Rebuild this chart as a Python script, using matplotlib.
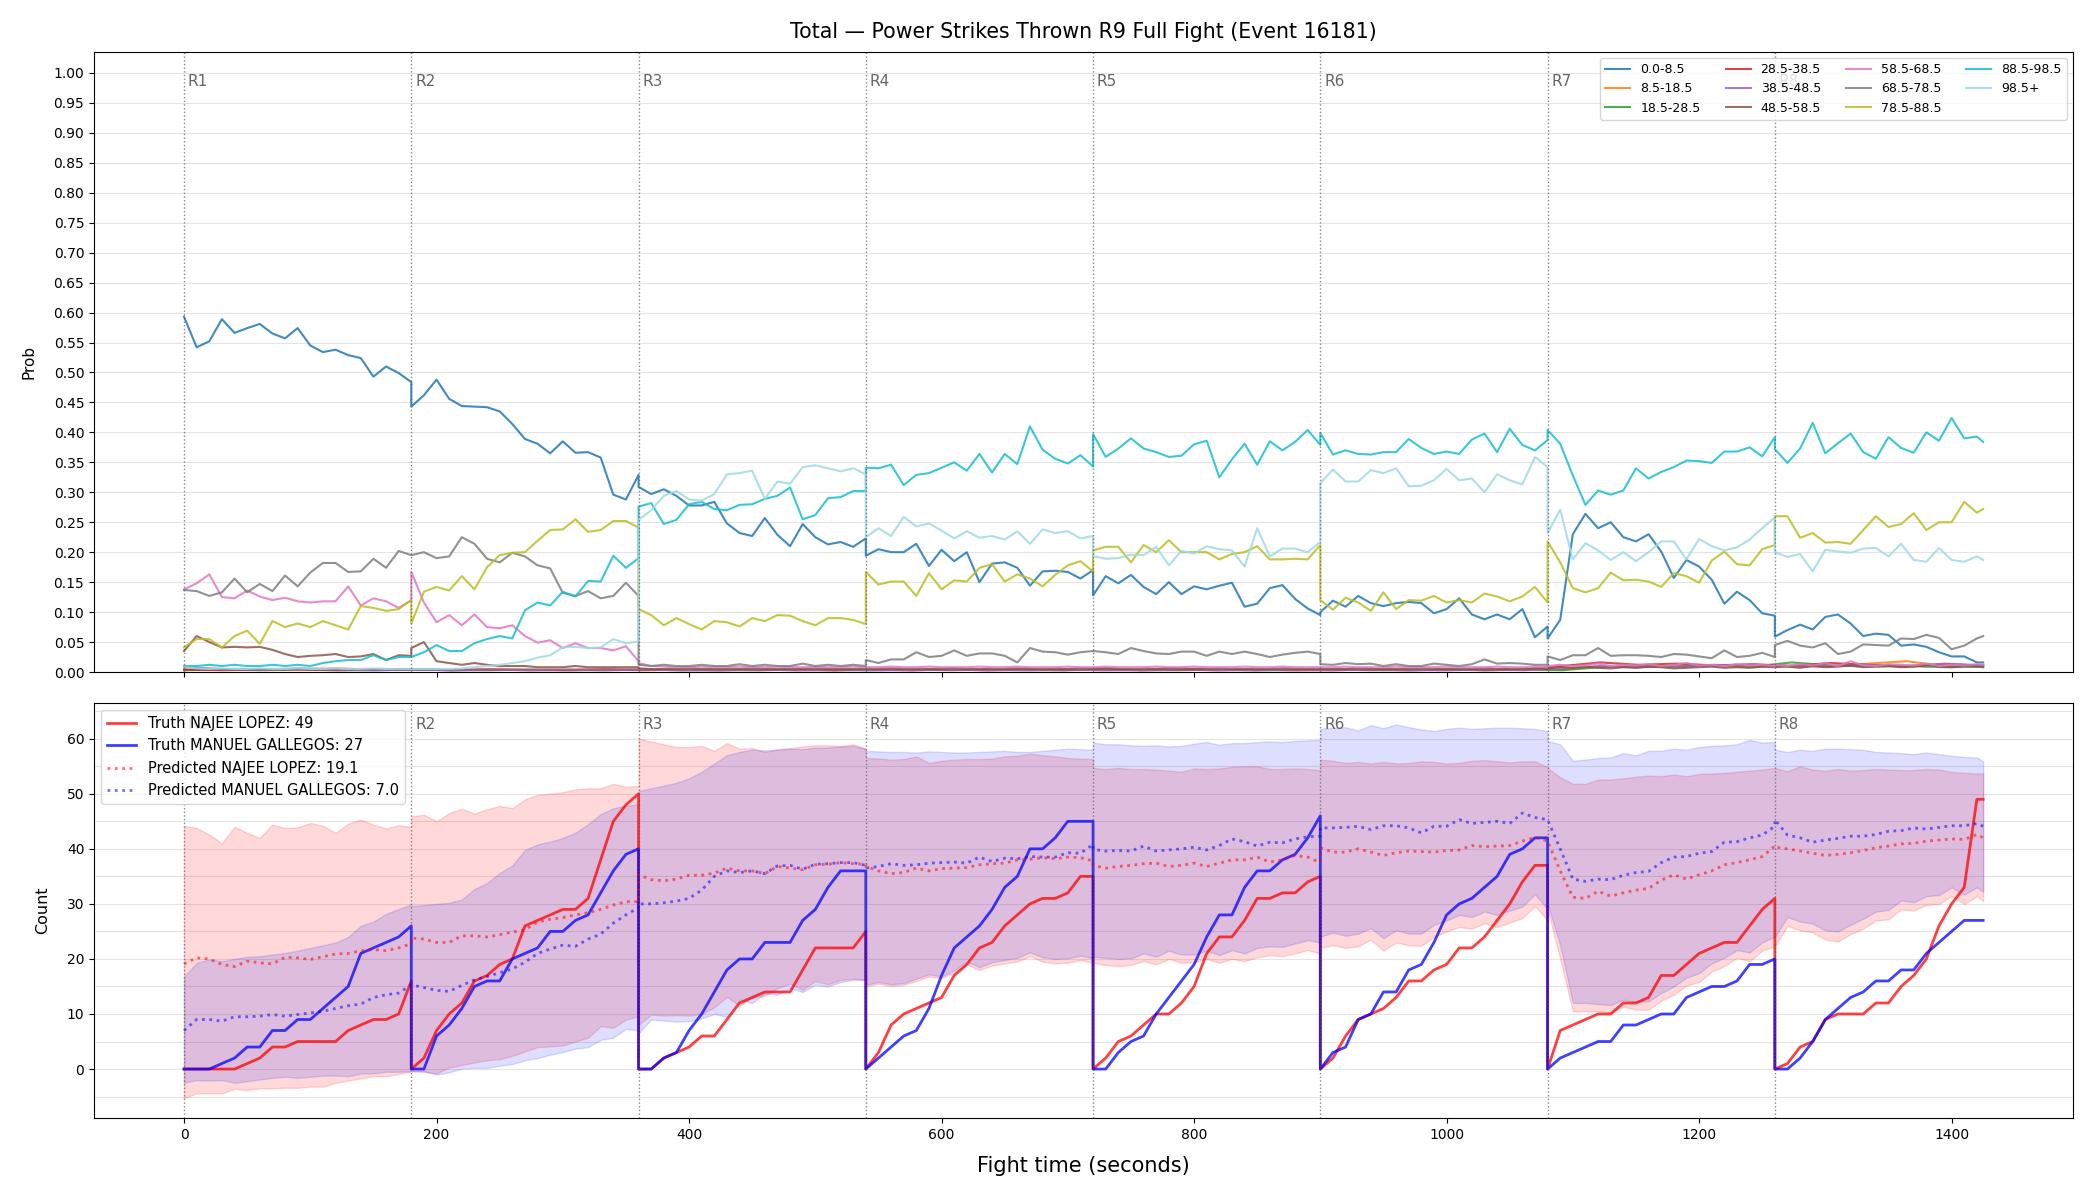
import matplotlib.pyplot as plt
import matplotlib.transforms as mtransforms
from matplotlib.ticker import MultipleLocator
import numpy as np

# time grid: 10 s samples per round, 8 rounds (last one stopped at 165 s)
ROUND_LEN = 180
round_offsets = [np.arange(0, 181, 10)] * 7 + [np.append(np.arange(0, 161, 10), 165)]
t = np.concatenate([i * ROUND_LEN + off for i, off in enumerate(round_offsets)])
t_coarse = np.linspace(0, 1425, 48)
round_starts = np.arange(8) * ROUND_LEN

bins = ['0.0-8.5', '8.5-18.5', '18.5-28.5', '28.5-38.5', '38.5-48.5', '48.5-58.5',
        '58.5-68.5', '68.5-78.5', '78.5-88.5', '88.5-98.5', '98.5+']
bin_colors = ['tab:blue', 'tab:orange', 'tab:green', 'tab:red', 'tab:purple', 'tab:brown',
              'tab:pink', 'tab:gray', 'tab:olive', 'tab:cyan', '#9edae5']

# ---- probability per bin, one list per round ----
p_0_8 = [
    [.593, .542, .552, .589, .566, .574, .581, .565, .557, .574, .545, .534, .538, .529, .524, .493, .51, .499, .484],
    [.443, .462, .488, .456, .444, .443, .442, .435, .414, .389, .381, .365, .385, .366, .367, .358, .296, .288, .329],
    [.309, .297, .305, .294, .278, .278, .284, .248, .232, .227, .257, .229, .21, .247, .225, .213, .217, .209, .223],
    [.194, .205, .2, .2, .214, .177, .204, .185, .2, .15, .181, .183, .174, .144, .168, .169, .167, .156, .17],
    [.128, .16, .148, .162, .142, .13, .15, .13, .143, .138, .144, .149, .109, .114, .14, .145, .122, .106, .095],
    [.1, .119, .109, .127, .115, .11, .115, .117, .115, .098, .105, .123, .096, .088, .096, .088, .105, .058, .076],
    [.056, .087, .23, .264, .24, .25, .225, .218, .23, .201, .157, .187, .176, .154, .114, .134, .12, .098, .094],
    [.059, .07, .079, .071, .092, .096, .081, .06, .064, .062, .044, .046, .042, .033, .026, .026, .016, .016],
]
p_48_58 = [
    [.035, .06, .05, .041, .042, .041, .042, .037, .03, .025, .027, .028, .03, .025, .026, .03, .02, .028, .027],
    [.04, .05, .018, .015, .012, .015, .012, .01, .01, .01, .008, .008, .008, .01, .008, .008, .008, .008, .008],
    [.006, .005, .005, .005, .006, .005, .005, .005, .005, .006, .005, .005, .005, .005, .006, .005, .005, .005, .005],
    [.005, .005, .006, .005, .005, .005, .005, .006, .005, .005, .005, .005, .006, .005, .005, .005, .005, .006, .005],
    [.005, .006, .005, .005, .005, .005, .006, .005, .005, .005, .006, .005, .005, .005, .005, .006, .005, .005, .005],
    [.005, .005, .005, .006, .005, .005, .005, .005, .006, .005, .005, .005, .005, .006, .005, .005, .005, .006, .005],
    [.006, .008, .007, .009, .007, .006, .008, .007, .009, .008, .006, .007, .008, .009, .007, .008, .007, .009, .008],
    [.008, .009, .007, .01, .008, .009, .011, .008, .009, .01, .008, .009, .012, .009, .008, .01, .009, .008],
]
p_58_68 = [
    [.138, .148, .163, .125, .123, .136, .126, .12, .124, .118, .116, .118, .118, .143, .111, .123, .118, .107, .12],
    [.167, .116, .083, .095, .078, .096, .075, .073, .078, .06, .049, .053, .04, .048, .04, .04, .036, .043, .018],
    [.015, .01, .009, .008, .008, .009, .008, .008, .009, .008, .008, .009, .008, .008, .009, .008, .008, .009, .008],
    [.008, .008, .009, .008, .008, .009, .008, .008, .008, .009, .008, .008, .009, .008, .008, .008, .009, .008, .008],
    [.008, .009, .008, .008, .008, .009, .008, .008, .009, .008, .008, .008, .009, .008, .008, .009, .008, .008, .008],
    [.008, .008, .009, .008, .008, .008, .009, .008, .008, .008, .009, .008, .008, .008, .009, .008, .008, .009, .008],
    [.01, .012, .01, .011, .014, .01, .012, .011, .013, .01, .012, .015, .011, .012, .01, .013, .011, .012, .01],
    [.012, .01, .013, .011, .015, .01, .018, .011, .01, .013, .012, .011, .014, .01, .012, .011, .013, .012],
]
p_68_78 = [
    [.137, .135, .127, .133, .156, .133, .147, .135, .161, .143, .166, .182, .182, .167, .168, .189, .174, .202, .195],
    [.195, .2, .19, .193, .225, .214, .189, .183, .199, .193, .178, .173, .132, .127, .135, .123, .127, .149, .127],
    [.012, .01, .012, .01, .01, .012, .01, .01, .013, .01, .012, .01, .01, .014, .01, .012, .01, .012, .01],
    [.02, .015, .021, .021, .033, .025, .027, .036, .027, .031, .031, .027, .016, .04, .034, .033, .029, .033, .035],
    [.035, .033, .03, .04, .035, .031, .03, .034, .034, .027, .034, .03, .034, .03, .025, .029, .032, .034, .03],
    [.013, .012, .015, .013, .014, .01, .013, .01, .01, .014, .012, .01, .013, .021, .014, .015, .014, .012, .012],
    [.026, .02, .028, .028, .04, .027, .028, .028, .027, .025, .03, .029, .026, .023, .036, .025, .027, .032, .025],
    [.045, .052, .044, .041, .048, .03, .034, .046, .045, .044, .056, .055, .062, .057, .038, .044, .056, .06],
]
p_78_88 = [
    [.041, .055, .055, .041, .06, .069, .047, .085, .075, .081, .075, .085, .078, .071, .11, .107, .102, .105, .12],
    [.081, .134, .142, .136, .16, .138, .175, .195, .199, .2, .219, .237, .238, .255, .234, .237, .252, .252, .241],
    [.105, .095, .078, .09, .08, .071, .085, .083, .076, .09, .085, .095, .094, .085, .078, .09, .09, .087, .08],
    [.167, .146, .151, .151, .127, .165, .138, .153, .151, .174, .18, .151, .163, .156, .143, .162, .178, .185, .168],
    [.203, .209, .209, .183, .212, .2, .22, .2, .2, .2, .188, .197, .2, .21, .188, .188, .189, .188, .212],
    [.12, .104, .124, .116, .102, .133, .105, .12, .119, .127, .116, .12, .116, .131, .126, .118, .126, .142, .116],
    [.218, .183, .14, .133, .14, .166, .153, .154, .151, .142, .165, .16, .149, .186, .201, .18, .178, .205, .212],
    [.26, .26, .224, .232, .216, .217, .214, .237, .26, .242, .247, .265, .237, .25, .25, .284, .266, .272],
]
p_88_98 = [
    [.01, .01, .012, .01, .012, .01, .01, .012, .01, .012, .01, .015, .018, .02, .02, .028, .02, .025, .025],
    [.025, .033, .045, .035, .035, .048, .055, .06, .056, .103, .116, .111, .134, .126, .152, .151, .194, .174, .19],
    [.276, .282, .247, .254, .28, .284, .272, .27, .279, .28, .289, .294, .308, .255, .262, .29, .292, .302, .302],
    [.341, .34, .346, .312, .329, .332, .341, .35, .336, .364, .333, .364, .347, .41, .371, .356, .348, .362, .343],
    [.397, .359, .373, .39, .373, .367, .359, .361, .38, .386, .325, .355, .381, .346, .385, .37, .384, .404, .379],
    [.399, .363, .37, .364, .363, .367, .367, .389, .374, .364, .368, .364, .388, .398, .367, .406, .379, .37, .387],
    [.404, .381, .328, .279, .303, .296, .303, .34, .323, .334, .342, .353, .352, .349, .368, .368, .375, .36, .392],
    [.372, .349, .373, .416, .365, .382, .398, .367, .356, .392, .374, .366, .4, .386, .424, .39, .393, .384],
]
p_98_up = [
    [.008, .006, .005, .006, .005, .005, .006, .005, .005, .006, .005, .005, .006, .005, .005, .006, .005, .005, .005],
    [.005, .005, .005, .005, .006, .008, .01, .012, .015, .018, .024, .028, .041, .042, .04, .041, .055, .048, .051],
    [.254, .27, .294, .302, .288, .286, .297, .33, .332, .336, .289, .318, .314, .342, .345, .34, .335, .34, .33],
    [.225, .24, .227, .259, .243, .248, .236, .223, .235, .224, .227, .221, .235, .214, .238, .232, .235, .223, .227],
    [.194, .189, .19, .196, .195, .209, .178, .202, .198, .21, .205, .203, .176, .24, .193, .206, .206, .2, .217],
    [.315, .338, .318, .318, .337, .332, .34, .31, .311, .32, .339, .32, .323, .3, .33, .32, .313, .359, .342],
    [.232, .271, .188, .215, .203, .187, .2, .185, .2, .218, .218, .188, .222, .21, .203, .208, .221, .24, .258],
    [.2, .192, .197, .168, .204, .201, .199, .206, .207, .193, .214, .187, .184, .207, .187, .184, .193, .187],
]
# small bins, sampled every ~30 s over the whole fight
p_8_18 = [.004, .005, .004, .005, .006, .004, .005, .004, .005, .004, .004, .005, .004, .003, .004, .003,
          .004, .003, .004, .003, .004, .003, .005, .004, .003, .004, .006, .004, .003, .004, .004, .005,
          .004, .003, .004, .005, .004, .009, .008, .012, .01, .008, .011, .009, .014, .018, .01, .012]
p_18_28 = [.003, .004, .003, .004, .003, .003, .004, .003, .003, .004, .003, .003, .004, .003, .003, .003,
           .004, .003, .003, .004, .003, .004, .003, .003, .006, .003, .003, .004, .003, .003, .004, .003,
           .003, .004, .003, .004, .003, .008, .01, .009, .012, .009, .016, .011, .009, .01, .008, .009]
p_28_38 = [.004, .003, .004, .004, .003, .004, .004, .003, .004, .003, .003, .004, .003, .004, .003, .004,
           .003, .003, .004, .003, .004, .003, .004, .003, .004, .003, .004, .003, .004, .003, .003, .004,
           .003, .004, .003, .004, .01, .016, .012, .014, .011, .013, .01, .015, .012, .009, .013, .011]
p_38_48 = [.008, .005, .004, .006, .004, .003, .004, .003, .004, .003, .004, .003, .004, .003, .003, .004,
           .003, .004, .003, .003, .004, .003, .003, .004, .003, .003, .004, .003, .003, .004, .003, .004,
           .003, .003, .004, .003, .006, .01, .008, .009, .011, .012, .009, .01, .012, .01, .014, .011]

# ---- counts ----
truth_najee = [
    [0, 0, 0, 0, 0, 1, 2, 4, 4, 5, 5, 5, 5, 7, 8, 9, 9, 10, 16],
    [0, 2, 7, 10, 12, 16, 17, 19, 20, 26, 27, 28, 29, 29, 31, 38, 45, 48, 50],
    [0, 0, 2, 3, 4, 6, 6, 9, 12, 13, 14, 14, 14, 18, 22, 22, 22, 22, 25],
    [0, 3, 8, 10, 11, 12, 13, 17, 19, 22, 23, 26, 28, 30, 31, 31, 32, 35, 35],
    [0, 2, 5, 6, 8, 10, 10, 12, 15, 21, 24, 24, 27, 31, 31, 32, 32, 34, 35],
    [0, 2, 6, 9, 10, 11, 13, 16, 16, 18, 19, 22, 22, 24, 27, 30, 34, 37, 37],
    [0, 7, 8, 9, 10, 10, 12, 12, 13, 17, 17, 19, 21, 22, 23, 23, 26, 29, 31],
    [0, 1, 4, 5, 9, 10, 10, 10, 12, 12, 15, 17, 20, 26, 30, 33, 49, 49],
]
truth_manuel = [
    [0, 0, 0, 1, 2, 4, 4, 7, 7, 9, 9, 11, 13, 15, 21, 22, 23, 24, 26],
    [0, 0, 6, 8, 11, 15, 16, 16, 20, 21, 22, 25, 25, 27, 28, 32, 36, 39, 40],
    [0, 0, 2, 3, 7, 10, 14, 18, 20, 20, 23, 23, 23, 27, 29, 33, 36, 36, 36],
    [0, 2, 4, 6, 7, 11, 17, 22, 24, 26, 29, 33, 35, 40, 40, 42, 45, 45, 45],
    [0, 0, 3, 5, 6, 10, 13, 16, 19, 24, 28, 28, 33, 36, 36, 38, 39, 42, 46],
    [0, 3, 4, 9, 10, 14, 14, 18, 19, 23, 28, 30, 31, 33, 35, 39, 40, 42, 42],
    [0, 2, 3, 4, 5, 5, 8, 8, 9, 10, 10, 13, 14, 15, 15, 16, 19, 19, 20],
    [0, 0, 2, 5, 9, 11, 13, 14, 16, 16, 18, 18, 21, 23, 25, 27, 27, 27],
]
pred_najee = [
    [19.1, 20.2, 20, 19, 18.6, 19.6, 19.3, 19.1, 20.3, 20.2, 19.9, 20.4, 20.9, 21, 21.5, 21.7, 21.5, 22, 22.8],
    [23.8, 23.6, 23, 23, 24.2, 24.2, 24, 24.4, 24.9, 25.3, 26.7, 27.2, 27.5, 28, 28.4, 29, 29.8, 30.4, 30.4],
    [35.3, 34.4, 34.2, 34.5, 35.2, 35.2, 35.6, 36.5, 36, 36, 35.5, 36.8, 36.5, 36.2, 37.1, 37.2, 37.5, 37.3, 37.2],
    [36.8, 36, 35.5, 35.7, 36.5, 36, 36.4, 36.5, 36.6, 37.1, 37.3, 37.4, 38, 38.1, 38.4, 38.2, 38.5, 38.4, 37.8],
    [37, 36.5, 36.8, 37, 37.3, 37.4, 36.8, 37, 37.4, 36.8, 37.4, 38, 38, 38.5, 37.6, 38, 38.8, 38.5, 37.5],
    [40.2, 39.4, 39.4, 40, 39.4, 38.8, 39.3, 39.6, 39.5, 39.4, 39.7, 39.8, 40.6, 40.4, 40.5, 40.6, 41.4, 42.1, 41.4],
    [41.4, 36, 31.2, 31, 32.3, 31.4, 32, 32.5, 32.8, 34.3, 35.3, 34.5, 35.3, 36, 37.1, 37.5, 38, 38.6, 40.5],
    [40.3, 40, 39.6, 39.2, 38.8, 39, 39.3, 39.7, 40.2, 40.5, 40.9, 41, 41.4, 41.6, 41.8, 41.7, 42.6, 42],
]
pred_manuel = [
    [7.0, 9, 9, 8.7, 9.5, 9.5, 9.6, 9.9, 9.6, 9.9, 10.2, 10.5, 11, 11.5, 11.8, 13, 13.5, 13.8, 15.3],
    [15.3, 14.8, 14.3, 14.1, 15.2, 16.2, 16.8, 17.5, 18.2, 19.4, 21, 21.8, 22.5, 22.3, 23.6, 24.5, 26.5, 28, 29.3],
    [30, 30, 30.2, 30.5, 31, 32.5, 35, 36, 35.7, 36, 35.5, 36.9, 37, 36.3, 37.2, 37.3, 37.5, 37.5, 37],
    [36.5, 36.8, 37.3, 37, 37.1, 37.4, 37.5, 37.6, 37.4, 38.5, 37.7, 38.3, 38.2, 38.6, 38.5, 38.5, 39.3, 39.2, 40.8],
    [39.9, 39.6, 39.7, 39.6, 40.5, 39.6, 39.8, 40, 40.3, 39.8, 40.6, 41.8, 41.3, 40.5, 41.2, 41.1, 41.8, 42.2, 42.3],
    [43.8, 43.8, 43.9, 44.1, 43.5, 44.2, 44.2, 43.8, 42.9, 44.1, 44.1, 45.3, 44.6, 44.8, 45, 44.6, 46.5, 45.7, 45.3],
    [45.3, 40, 34.5, 34.1, 34.5, 34.4, 35.2, 35.7, 35.9, 37.5, 38.5, 38.6, 39.2, 39.5, 41.2, 41.3, 42, 42.5, 44.1],
    [45.3, 42.5, 42, 41.2, 41.6, 41.9, 42.3, 42.3, 42.6, 43.2, 43.3, 43.8, 43.6, 43.9, 44.2, 44.2, 44.6, 44.1],
]
najee_hi = [
    [44.2, 43.8, 42.6, 41, 44, 42.9, 42, 44.4, 43.8, 43.9, 44.7, 44.2, 42.9, 44.6, 45.3, 44.4, 43.7, 44.3, 44],
    [45.9, 46.2, 45, 46.5, 47.3, 46.4, 47.2, 47.8, 47.4, 49, 49.8, 50, 50.3, 50.8, 51, 51, 51.8, 51.3, 51.4],
    [60, 59.5, 59, 58.5, 58.5, 58.7, 57.8, 59.2, 58.2, 58.3, 57.6, 58.1, 58.3, 58.6, 58.8, 58.8, 58.7, 59, 58.2],
    [56.5, 56.4, 56.2, 56.3, 56.8, 55.6, 56, 56.2, 56.3, 56.3, 56.4, 56.8, 56.9, 57.3, 57, 56.8, 56.5, 56.4, 56.3],
    [54.7, 54.5, 54.7, 54.5, 54.5, 54.4, 54.2, 54, 54.6, 54.5, 54.6, 54.9, 55, 55, 54.5, 54.5, 54.6, 54.5, 54.3],
    [56.2, 56, 55.6, 55.8, 55.5, 55.8, 55.5, 55.6, 55.9, 55.8, 55.5, 55.6, 56, 56.1, 55.9, 55.7, 55.9, 55.9, 54.9],
    [54.7, 53, 51.8, 51.8, 52.6, 52.6, 52.8, 53.1, 53.3, 53.2, 53.5, 53.2, 53.6, 53.7, 53.8, 54, 54.2, 54.4, 54.7],
    [54.7, 54.1, 55, 54.4, 54.2, 54.5, 54.2, 54.3, 54.5, 54.4, 54.3, 54.3, 54.5, 54.4, 54, 53.8, 53.7, 53.7],
]
najee_lo = [
    [-5.3, -4.4, -4.4, -4.4, -3.6, -3.8, -3.5, -3.5, -3.4, -3.4, -3.2, -3.2, -2.5, -2.1, -1.7, -1.3, -1.3, -0.9, -0.4],
    [-0.4, -0.5, -0.8, 0.3, 0.7, 1.2, 1.6, 1.8, 2.4, 3.2, 4, 4.1, 4.3, 5, 5.7, 7.8, 7.5, 9, 9.6],
    [8, 9.9, 9.7, 9.8, 9.7, 10, 11.2, 13.1, 11.5, 13, 13.3, 14.7, 15.5, 14.4, 16, 15.4, 16.2, 16.4, 16.2],
    [15, 15.5, 15.1, 15.3, 16, 16.8, 16.5, 17.5, 19, 18, 18.8, 19.2, 19.5, 20.5, 19.5, 19.2, 19.3, 19.8, 19.3],
    [19.3, 18.9, 18.7, 18.9, 19.6, 19, 20, 19.3, 19.4, 20, 19.3, 20, 19.6, 20.3, 20.7, 20.5, 21, 21.6, 21],
    [22, 22.5, 22, 22.3, 23.5, 21.5, 23, 22.5, 22.4, 24, 25, 25.8, 25.5, 26.5, 25.8, 26.6, 27.4, 29.6, 27],
    [29, 20, 10.5, 10.5, 10.5, 10.3, 11.3, 10.8, 10.8, 12.4, 13.5, 15.2, 15.8, 17.7, 18.7, 20.2, 19.6, 21.5, 22.3],
    [22.3, 26, 25.2, 24.8, 23.5, 23.2, 24.5, 25.5, 27, 27.2, 29, 28.8, 29.8, 30, 31.4, 30, 31.4, 30.5],
]
manuel_hi = [
    [16.8, 19.3, 19.9, 19.6, 20, 20.4, 20.5, 20.8, 21.1, 21.5, 22, 22.5, 23, 24, 26, 26.8, 28.2, 29.1, 29.9],
    [29.6, 29.8, 30, 30.2, 30.8, 32.7, 33.8, 35.6, 37, 39.8, 40.8, 41.3, 42, 42.9, 44.5, 46.3, 47.4, 47.8, 48.1],
    [50.5, 51, 51.5, 52, 52.8, 54, 55.5, 57, 57.6, 58, 57.9, 58, 58.2, 58.1, 58.4, 58.4, 58.6, 58.7, 58.2],
    [57.8, 57.7, 57.6, 57.6, 57.5, 57.7, 57.6, 57.5, 57.5, 57.6, 57.7, 57.8, 57.6, 57.6, 57.8, 58, 58.2, 58.1, 58],
    [59.3, 59, 59, 58.8, 58.7, 58.8, 58.6, 58.7, 59.1, 59.4, 58.9, 59.2, 59.2, 59.4, 59.5, 59.4, 59.6, 59.7, 59.8],
    [61.8, 62, 62.1, 61.5, 62.5, 61.9, 62.6, 62.1, 61.7, 61.4, 61.8, 62, 61.8, 61.9, 62, 62, 61.9, 61.8, 61.4],
    [59.6, 59, 56, 56.2, 56.5, 56.6, 57.4, 57, 57.8, 57.8, 58.2, 58, 58.5, 58.7, 58.8, 59, 59.8, 59.3, 59.4],
    [58, 57.6, 58, 57.8, 58.2, 58.2, 58.1, 58, 57.6, 57.5, 57.4, 57.2, 57.5, 57.2, 56.9, 56.7, 56.6, 55.9],
]
manuel_lo = [
    [-2.5, -2, -2.1, -2, -2.5, -2.2, -1.9, -1.6, -1.4, -1.6, -1.4, -1.2, -1.2, -1.3, -0.8, -0.8, -0.5, -0.5, -0.4],
    [-0.4, -0.4, -1, -0.6, 0.1, 0.2, 0.2, 0.6, 0.9, 1.6, 2, 2.6, 3.1, 3.7, 4, 5.3, 5.7, 7.3, 7],
    [6.5, 9, 8.8, 8.6, 8.7, 9.2, 10, 9.5, 12.6, 12, 13.7, 13.5, 14.7, 14, 15.3, 15, 15.8, 16.2, 16.2],
    [15.3, 15.8, 15.4, 15.6, 16.4, 17.2, 16.8, 17.9, 19.5, 18.5, 19.4, 19.8, 20.2, 21.2, 20.3, 20, 20.1, 20.6, 20.1],
    [20.4, 20.2, 20, 20.1, 21, 20.4, 21.5, 20.8, 20.8, 21.5, 20.7, 21.6, 21, 22, 22.3, 22.2, 22.8, 23.4, 23],
    [24, 24.8, 24.2, 24.6, 25.6, 23.8, 25.2, 24.6, 24.6, 26.2, 27, 28, 27.6, 28.6, 28, 28.8, 29.5, 31.8, 29],
    [30, 22.5, 12, 12, 11.8, 11.6, 12.6, 12.2, 12.3, 13.8, 15, 16.6, 17.4, 19.2, 20.2, 21.6, 21.2, 23, 24],
    [24, 27.6, 26.8, 26.4, 25.2, 25, 26.2, 27.3, 28.6, 28.9, 30.6, 30.3, 31.4, 31.6, 33, 31.7, 33, 32.2],
]


def flat(rounds):
    return np.concatenate([np.asarray(r, dtype=float) for r in rounds])


fig = plt.figure(figsize=(21, 12), dpi=100)
ax1 = fig.add_axes([0.0448, 0.44, 0.9424, 0.5167])
ax2 = fig.add_axes([0.0448, 0.0683, 0.9424, 0.3459], sharex=ax1)

# ---- top: bin probabilities ----
series = [(t, flat(p_0_8)), (t_coarse, p_8_18), (t_coarse, p_18_28), (t_coarse, p_28_38),
          (t_coarse, p_38_48), (t, flat(p_48_58)), (t, flat(p_58_68)), (t, flat(p_68_78)),
          (t, flat(p_78_88)), (t, flat(p_88_98)), (t, flat(p_98_up))]
for (x, y), lab, col in zip(series, bins, bin_colors):
    ax1.plot(x, y, color=col, lw=1.5, alpha=0.85, label=lab)

ax1.set_ylim(0, 1.035)
ax1.set_yticks(np.arange(0, 1.001, 0.05))
ax1.set_ylabel('Prob', fontsize=11, labelpad=12)
ax1.grid(axis='y', color='#e4e4e4', lw=0.8)
ax1.set_axisbelow(True)
ax1.tick_params(labelbottom=False)
ax1.set_title('Total \u2014 Power Strikes Thrown R9 Full Fight (Event 16181)', fontsize=14.8, pad=10)
ax1.legend(loc='upper right', ncol=4, fontsize=9)

# ---- bottom: counts ----
ax2.fill_between(t, flat(najee_lo), flat(najee_hi), color='red', alpha=0.15)
ax2.fill_between(t, flat(manuel_lo), flat(manuel_hi), color='blue', alpha=0.13)
ax2.plot(t, flat(truth_najee), color='red', lw=2, alpha=0.75, label='Truth NAJEE LOPEZ: 49')
ax2.plot(t, flat(truth_manuel), color='blue', lw=2, alpha=0.75, label='Truth MANUEL GALLEGOS: 27')
ax2.plot(t, flat(pred_najee), color='red', lw=2, ls=':', alpha=0.55, label='Predicted NAJEE LOPEZ: 19.1')
ax2.plot(t, flat(pred_manuel), color='blue', lw=2, ls=':', alpha=0.55, label='Predicted MANUEL GALLEGOS: 7.0')

ax2.set_ylim(-8.9, 66.5)
ax2.yaxis.set_major_locator(MultipleLocator(10))
ax2.yaxis.set_minor_locator(MultipleLocator(5))
ax2.tick_params(axis='y', which='minor', length=0)
ax2.grid(axis='y', which='both', color='#e4e4e4', lw=0.8)
ax2.set_axisbelow(True)
ax2.set_ylabel('Count', fontsize=11.5, labelpad=12)
ax2.set_xlabel('Fight time (seconds)', fontsize=15, labelpad=10)
ax2.legend(loc='upper left', fontsize=10.5)

ax1.set_xlim(-71.25, 1496.25)

# round markers
for ax in (ax1, ax2):
    trans = mtransforms.blended_transform_factory(ax.transData, ax.transAxes)
    for i, x0 in enumerate(round_starts):
        ax.axvline(x0, color='#555555', ls=':', lw=1, alpha=0.7)
        ax.text(x0 + 3, 0.965, f'R{i + 1}', transform=trans, ha='left', va='top',
                color='#666666', fontsize=11, zorder=2)

fig.savefig('out.png', dpi=100)
